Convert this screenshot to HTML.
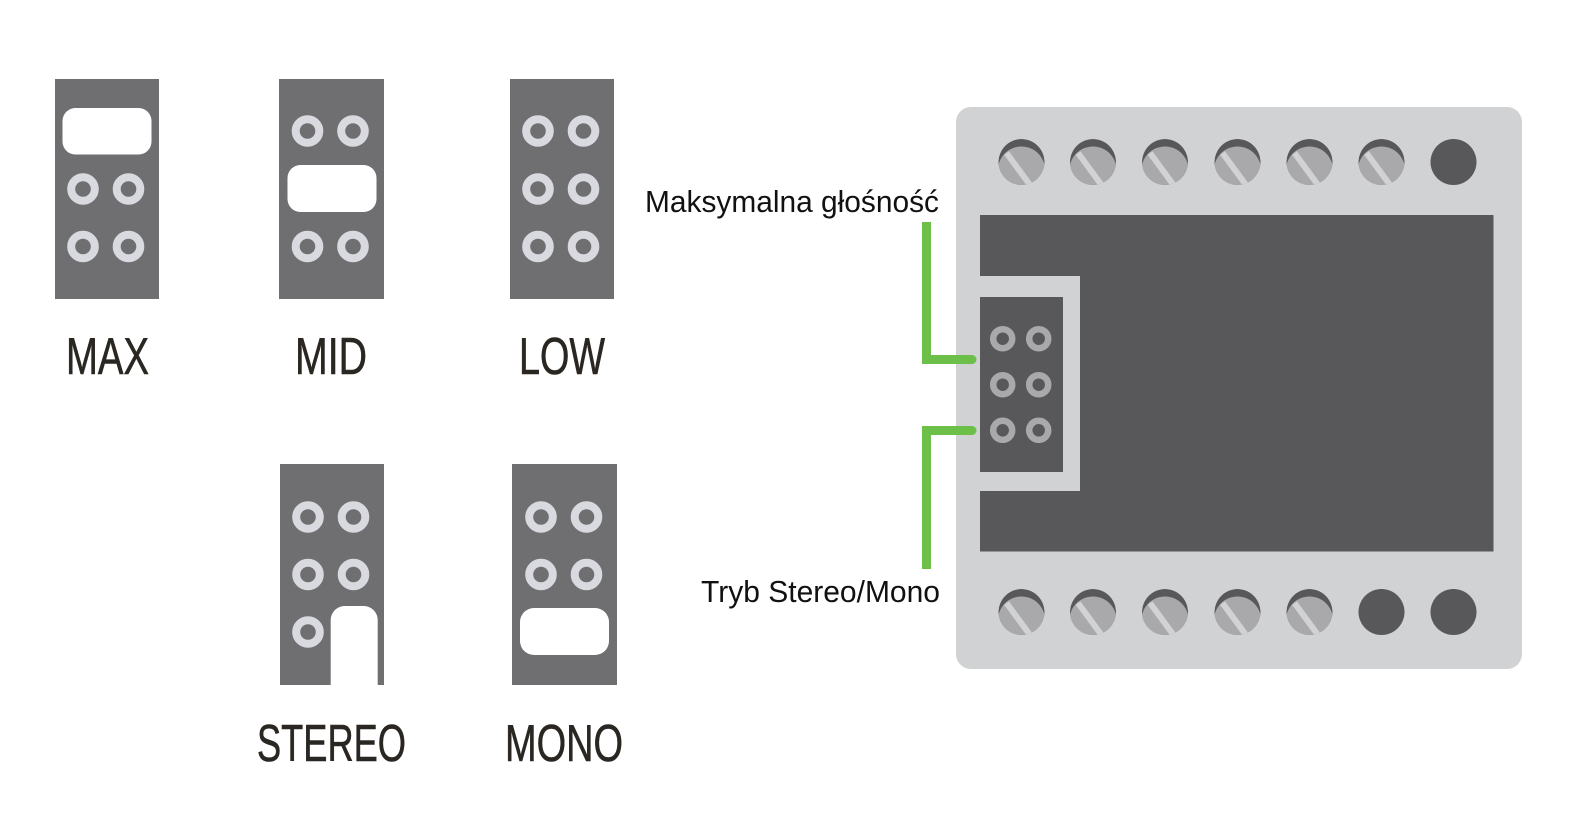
<!DOCTYPE html>
<html><head><meta charset="utf-8"><style>html,body{margin:0;padding:0;background:#fff}svg{display:block}</style></head><body>
<svg width="1589" height="840" viewBox="0 0 1589 840" xmlns="http://www.w3.org/2000/svg">
<defs>
<clipPath id="sc"><circle cx="0" cy="0" r="23"/></clipPath>
<g id="pin"><circle r="11.8" fill="#6f6f71" stroke="#d9dae0" stroke-width="8"/></g>
<g id="bpin"><circle r="9.500" fill="#58585a" stroke="#a9a9ac" stroke-width="6.500"/></g>
<g id="screw"><g clip-path="url(#sc)"><circle r="23" fill="#58585a"/><circle cx="0" cy="8" r="23.500" fill="#a9a9ac"/><path d="M-15-9L10 25" stroke="#d1d2d4" stroke-width="6" fill="none"/></g></g>
<circle id="dot" r="23" fill="#58585a"/>
</defs>

<!-- Panels -->
<rect x="55" y="79" width="104" height="220" fill="#6f6f71"/>
<rect x="62.500" y="108" width="89" height="46.500" rx="13" fill="#fff"/>
<use href="#pin" x="83" y="189"/><use href="#pin" x="128.500" y="189"/>
<use href="#pin" x="83" y="246.500"/><use href="#pin" x="128.500" y="246.500"/>

<rect x="279" y="79" width="105" height="220" fill="#6f6f71"/>
<use href="#pin" x="307.500" y="131"/><use href="#pin" x="353" y="131"/>
<rect x="287.500" y="165" width="89" height="47" rx="13" fill="#fff"/>
<use href="#pin" x="307.500" y="246.500"/><use href="#pin" x="353" y="246.500"/>

<rect x="510" y="79" width="104" height="220" fill="#6f6f71"/>
<use href="#pin" x="538" y="131"/><use href="#pin" x="583.500" y="131"/>
<use href="#pin" x="538" y="189"/><use href="#pin" x="583.500" y="189"/>
<use href="#pin" x="538" y="246.500"/><use href="#pin" x="583.500" y="246.500"/>

<rect x="280" y="464" width="104" height="221" fill="#6f6f71"/>
<use href="#pin" x="308" y="517"/><use href="#pin" x="353.500" y="517"/>
<use href="#pin" x="308" y="574.500"/><use href="#pin" x="353.500" y="574.500"/>
<use href="#pin" x="308" y="632"/>
<path d="M330.700 685V620a14 14 0 0 1 14-14h19a14 14 0 0 1 14 14V685Z" fill="#fff"/>

<rect x="512" y="464" width="105" height="221" fill="#6f6f71"/>
<use href="#pin" x="541" y="517"/><use href="#pin" x="586.500" y="517"/>
<use href="#pin" x="541" y="574.500"/><use href="#pin" x="586.500" y="574.500"/>
<rect x="520" y="608" width="89" height="47" rx="14" fill="#fff"/>

<!-- Panel labels -->
<g font-family="'Liberation Sans',sans-serif" font-size="52" fill="#2a2622" stroke="#2a2622" stroke-width="0.600">
<text x="66" y="374" textLength="83" lengthAdjust="spacingAndGlyphs">MAX</text>
<text x="295" y="374" textLength="72" lengthAdjust="spacingAndGlyphs">MID</text>
<text x="519" y="374" textLength="86" lengthAdjust="spacingAndGlyphs">LOW</text>
<text x="257" y="761" textLength="149" lengthAdjust="spacingAndGlyphs">STEREO</text>
<text x="505" y="761" textLength="118" lengthAdjust="spacingAndGlyphs">MONO</text>
</g>

<!-- Board -->
<path d="M971 107H1507A15 15 0 0 1 1522 122V654A15 15 0 0 1 1507 669H971A15 15 0 0 1 956 654V122A15 15 0 0 1 971 107Z" fill="#d1d2d4"/>
<rect x="980" y="215" width="513.500" height="336.500" fill="#58585a"/>
<rect x="980" y="276" width="100" height="215" fill="#d1d2d4"/>
<rect x="980" y="297" width="83" height="175" fill="#58585a"/>
<use href="#bpin" x="1002.700" y="338.700"/><use href="#bpin" x="1038.700" y="338.700"/>
<use href="#bpin" x="1002.700" y="384.700"/><use href="#bpin" x="1038.700" y="384.700"/>
<use href="#bpin" x="1002.700" y="430.300"/><use href="#bpin" x="1038.700" y="430.300"/>

<use href="#screw" x="1021.500" y="162"/><use href="#screw" x="1093" y="162"/><use href="#screw" x="1165" y="162"/><use href="#screw" x="1237.500" y="162"/><use href="#screw" x="1309.500" y="162"/><use href="#screw" x="1381.500" y="162"/><use href="#dot" x="1453.500" y="162"/>
<use href="#screw" x="1021.500" y="612"/><use href="#screw" x="1093" y="612"/><use href="#screw" x="1165" y="612"/><use href="#screw" x="1237.500" y="612"/><use href="#screw" x="1309.500" y="612"/><use href="#dot" x="1381.500" y="612"/><use href="#dot" x="1453.500" y="612"/>

<!-- Green leaders -->
<path d="M926.500 222V359.500H972" fill="none" stroke="#6cc04a" stroke-width="9"/>
<path d="M926.500 569V430.500H972" fill="none" stroke="#6cc04a" stroke-width="9"/>
<circle cx="972" cy="359.500" r="4.500" fill="#6cc04a"/><circle cx="972" cy="430.500" r="4.500" fill="#6cc04a"/>

<g font-family="'Liberation Sans',sans-serif" font-size="31" fill="#111">
<text x="645" y="212" textLength="294" lengthAdjust="spacingAndGlyphs">Maksymalna głośność</text>
<text x="701" y="602" textLength="239" lengthAdjust="spacingAndGlyphs">Tryb Stereo/Mono</text>
</g>
</svg>
</body></html>
